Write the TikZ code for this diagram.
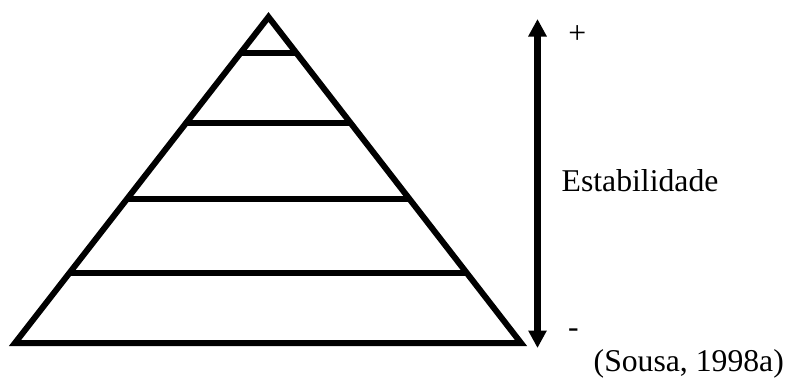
\documentclass[tikz,border=0pt]{standalone}
\usepackage{fontspec}
\setmainfont{Liberation Serif}
\usetikzlibrary{arrows.meta,calc}
\begin{document}
\begin{tikzpicture}[x=1pt,y=-1pt,
  edge/.style={line width=6pt,line join=miter,line cap=butt},
  level/.style={line width=5.6pt},
  scale arrow/.style={line width=6.4pt,{Triangle[length=17.5pt,width=17.5pt]}-{Triangle[length=17.5pt,width=17.5pt]}},
  lbl/.style={inner sep=0pt,font=\fontsize{31.7}{38}\selectfont,anchor=base west}]
\useasboundingbox (0,0) rectangle (790,378);
% triangle
\coordinate (A) at (268.5,17);
\coordinate (L) at (15,343);
\coordinate (R) at (521,343);
\draw[edge] (A) -- (L) -- (R) -- cycle;
% levels
\foreach \n/\yy in {1/53,2/123,3/199,4/273}{
  \pgfmathsetmacro{\t}{(\yy-17)/326}
  \coordinate (l\n) at ($(A)!\t!(L)$);
  \coordinate (r\n) at ($(A)!\t!(R)$);
  \draw[level] (l\n) -- (r\n);
}
% stability arrow
\coordinate (top) at (537.5,19);
\coordinate (bot) at (537.5,348);
\draw[scale arrow] (bot) -- (top);
% labels
\node[lbl] (plus) at (568.2,43.7) {+};
\node[lbl] (minus) at (568,337.8) {-};
\node[lbl] (estab) at (561.5,191.7) {Estabilidade};
\node[lbl] (ref) at (593.5,371.7) {(Sousa, 1998a)};
\end{tikzpicture}
\end{document}
